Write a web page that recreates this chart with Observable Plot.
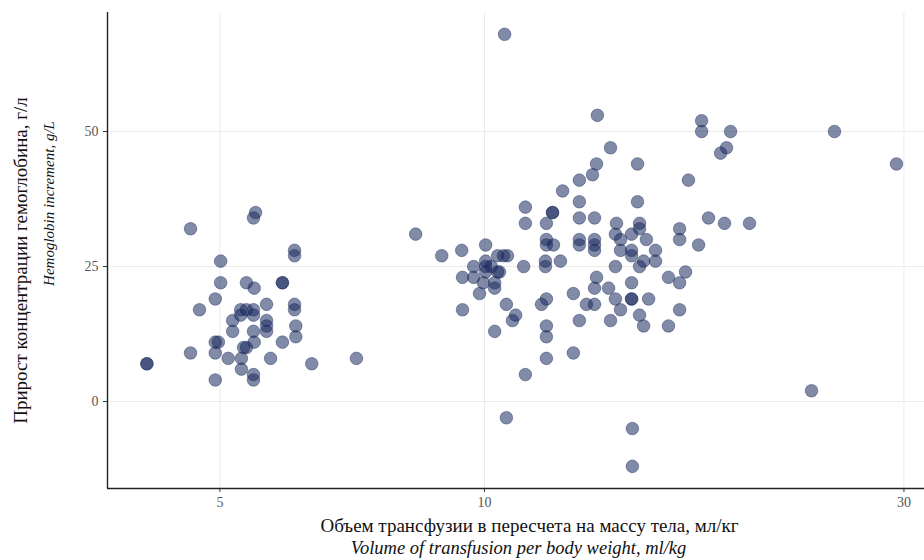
<!DOCTYPE html>
<html>
<head>
<meta charset="utf-8">
<script src="https://cdn.jsdelivr.net/npm/d3@7"></script>
<script src="https://cdn.jsdelivr.net/npm/@observablehq/plot@0.6"></script>
<style>
  html, body { margin: 0; padding: 0; background: #fff; }
  #chart { width: 924px; height: 560px; }
</style>
</head>
<body>
<div id="chart"></div>
<script>
// Volume of transfusion per body weight, ml/kg (log axis)
const volume = [
  4.63, 5.49, 5.46, 6.08, 6.08, 5.01, 5.01, 5.36, 5.47, 5.89, 5.89, 4.94, 4.74, 5.65, 5.28, 5.36,
  5.46, 5.46, 5.28, 6.08, 6.08, 5.17, 5.65, 5.65, 5.65, 5.17, 5.46, 6.10, 6.10, 4.94, 4.98, 5.47,
  5.89, 5.32, 5.36, 4.63, 4.94, 5.11, 5.29, 5.71, 6.36, 7.15, 4.13, 4.13, 5.29, 4.94, 5.46, 5.46,
  8.35, 8.94, 9.42, 10.03, 10.35, 10.51, 10.62, 9.72, 10.03, 10.03, 10.18, 10.03, 10.35, 10.40, 9.44, 9.72,
  9.97, 10.27, 10.27, 9.87, 11.08, 9.44, 10.59, 10.85, 10.76, 10.27, 10.59, 11.13, 10.54, 11.13, 11.13, 11.95,
  11.95, 11.76, 12.27, 12.82, 13.27, 13.41, 13.44, 13.91, 14.93, 14.93, 12.82, 12.82, 13.34, 14.13, 15.01, 15.01,
  14.09, 14.70, 14.28, 15.28, 14.28, 14.70, 14.70, 15.65, 15.65, 15.17, 15.01, 14.09, 11.76, 11.76, 11.98, 12.82,
  12.82, 13.34, 13.34, 13.34, 11.73, 11.73, 12.20, 13.41, 13.34, 13.84, 14.70, 12.62, 11.76, 11.61, 13.06, 13.34,
  14.09, 14.70, 14.70, 15.37, 14.28, 15.01, 15.17, 12.82, 13.91, 11.76, 11.76, 11.76, 12.62, 16.19, 16.67, 16.19,
  16.93, 16.67, 16.67, 16.67, 17.52, 17.06, 17.66, 17.66, 19.05, 18.85, 18.56, 17.98, 18.75, 20.02, 25.01, 29.42,
  23.55, 14.73, 14.73
];
// Hemoglobin increment, g/L
const increment = [
  32, 35, 34, 28, 27, 26, 22, 22, 21, 22, 22, 19, 17, 18, 17, 17,
  17, 16, 16, 18, 17, 15, 15, 14, 13, 13, 13, 14, 12, 11, 11, 11,
  11, 10, 10, 9, 9, 8, 8, 8, 7, 8, 7, 7, 6, 4, 5, 4,
  31, 27, 28, 29, 27, 27, 27, 25, 26, 25, 25, 24, 24, 24, 23, 23,
  22, 22, 21, 20, 25, 17, 18, 16, 15, 13, -3, 5, 68, 36, 33, 35,
  35, 33, 39, 41, 42, 44, 53, 47, 44, 37, 37, 34, 34, 33, 33, 32,
  31, 31, 30, 30, 28, 28, 27, 28, 26, 26, 25, 25, 30, 29, 29, 30,
  29, 30, 29, 28, 26, 25, 26, 23, 21, 21, 22, 20, 19, 18, 18, 18,
  19, 19, 19, 19, 17, 16, 14, 15, 15, 14, 12, 8, 9, 14, 17, 23,
  24, 22, 32, 30, 29, 41, 52, 50, 50, 47, 46, 34, 33, 33, 50, 44,
  2, -5, -12
];
const xTicks = [5, 10, 30];
const yTicks = [0, 25, 50];
const xDomain = [3.725, 31.66];
const yDomain = [-16.1, 72.04];

const yTitle1 = "Прирост концентрации гемоглобина, г/л";
const yTitle2 = "Hemoglobin increment, g/L";
const xTitle1 = "Объем трансфузии в пересчета на массу тела, мл/кг";
const xTitle2 = "Volume of transfusion per body weight, ml/kg";

const data = volume.map((v, i) => ({volume: v, increment: increment[i]}));
const serif = "'Liberation Serif', 'DejaVu Serif', serif";
const pointColor = "#1a2a5e";

const chart = Plot.plot({
  width: 924,
  height: 560,
  marginLeft: 107,
  marginRight: 0,
  marginTop: 12,
  marginBottom: 72,
  style: {fontFamily: serif, background: "#fff", overflow: "visible"},
  x: {type: "log", domain: xDomain},
  y: {domain: yDomain},
  marks: [
    Plot.ruleX(xTicks, {stroke: "#ebebeb", strokeWidth: 1}),
    Plot.ruleY(yTicks, {stroke: "#ebebeb", strokeWidth: 1}),
    Plot.axisX({ticks: xTicks, tickFormat: d => String(d), tickSize: 4, tickPadding: 5,
      fontSize: 14, stroke: "#333", fill: "#555", label: null}),
    Plot.axisY({ticks: yTicks, tickFormat: d => String(d), tickSize: 4, tickPadding: 5,
      fontSize: 14, stroke: "#333", fill: "#555", label: null}),
    Plot.ruleX([xDomain[0]], {stroke: "#222", strokeWidth: 1.4}),
    Plot.ruleY([yDomain[0]], {stroke: "#222", strokeWidth: 1.4}),
    Plot.dot(data, {x: "volume", y: "increment", r: 6.3,
      fill: pointColor, fillOpacity: 0.55, stroke: pointColor, strokeOpacity: 0.42, strokeWidth: 1}),
    Plot.text([yTitle1], {text: d => d, frameAnchor: "left", textAnchor: "middle", rotate: -90, dx: -87, dy: 10,
      lineAnchor: "middle", fontSize: 19, fill: "#111", fontFamily: serif}),
    Plot.text([yTitle2], {text: d => d, frameAnchor: "left", textAnchor: "middle", rotate: -90, dx: -58, dy: -47,
      lineAnchor: "middle", fontSize: 15, fill: "#111", fontStyle: "italic", fontFamily: serif}),
    Plot.text([xTitle1], {text: d => d, frameAnchor: "bottom", textAnchor: "middle", dx: 13.5, dy: 37,
      lineAnchor: "middle", fontSize: 19, fill: "#111", fontFamily: serif}),
    Plot.text([xTitle2], {text: d => d, frameAnchor: "bottom", textAnchor: "middle", dx: 2.5, dy: 60,
      lineAnchor: "middle", fontSize: 18.5, fill: "#111", fontStyle: "italic", fontFamily: serif})
  ]
});
document.getElementById("chart").append(chart);
</script>
</body>
</html>
